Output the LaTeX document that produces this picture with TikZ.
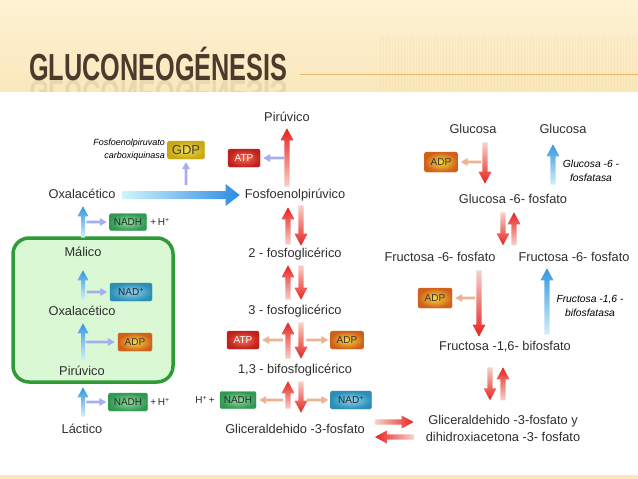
\documentclass[tikz,border=0pt]{standalone}
\usepackage{graphicx}
\usepackage{fontspec}
\setmainfont{Liberation Sans}
\usetikzlibrary{calc}

\definecolor{txt}{HTML}{2E2E2E}
\definecolor{ttl}{HTML}{4A3B2C}
\definecolor{bandtop}{HTML}{FDF2D4}
\definecolor{bandbot}{HTML}{FAE8BC}
\definecolor{rulecol}{HTML}{EBB66A}
\definecolor{redhi}{HTML}{E8221F}
\definecolor{redlo}{HTML}{F8D2C9}
\definecolor{bluehi}{HTML}{3597E0}
\definecolor{bluelo}{HTML}{D2F0FB}
\definecolor{bigl}{HTML}{CFF3FC}
\definecolor{bigr}{HTML}{2C8CE2}
\definecolor{lav}{HTML}{A6AEF2}
\definecolor{sidetan}{HTML}{EBB394}
\definecolor{mitofill}{HTML}{DAF8D4}
\definecolor{mitoline}{HTML}{2E9B37}
\definecolor{atpin}{HTML}{F26C55}
\definecolor{atpout}{HTML}{C0201A}
\definecolor{adpin}{HTML}{F9D83C}
\definecolor{adpout}{HTML}{D0601A}
\definecolor{gdpin}{HTML}{F2DC4E}
\definecolor{gdpout}{HTML}{C9A812}
\definecolor{nadhin}{HTML}{96DCA6}
\definecolor{nadhout}{HTML}{2F9A50}
\definecolor{nadin}{HTML}{8ED6EE}
\definecolor{nadout}{HTML}{2A8EB6}

\begin{document}
\begin{tikzpicture}[x=1pt,y=-1pt,font=\fontsize{12.8}{14}\selectfont]
\tikzset{garrow/.style args={#1/#2/#3}{to path={let \p1=(\tikztostart), \p2=(\tikztotarget),
  \n1={veclen(\x2-\x1,\y2-\y1)}, \n2={atan2(\y2-\y1,\x2-\x1)} in
  {[shift={(\x1,\y1)},rotate=\n2] (0pt,-#1) -- (\n1-#3,-#1) -- (\n1-#3,-#2) -- (\n1-0pt,0pt)
  -- (\n1-#3,#2) -- (\n1-#3,#1) -- (0pt,#1) -- cycle}}}}
\tikzstyle{lbl}=[inner sep=1pt, text height=9.5pt, text depth=2.7pt, text=txt]
\tikzstyle{enz}=[inner sep=1pt, align=center, font=\fontsize{10.3}{13.5}\selectfont\itshape, text=black]
\tikzstyle{box}=[rounded corners=1.5pt, inner sep=0pt, minimum height=18pt, font=\fontsize{10}{10}\selectfont]
\tikzstyle{atp}=[box, inner color=atpin, outer color=atpout, draw=atpout, text=white, minimum width=32pt]
\tikzstyle{adp}=[box, inner color=adpin, outer color=adpout, draw=adpout, text=black!80, minimum width=34pt]
\tikzstyle{gdp}=[box, inner color=gdpin, outer color=gdpout, draw=gdpout, text=black!75, minimum width=37pt, font=\fontsize{13}{13}\selectfont]
\tikzstyle{nadh}=[box, inner color=nadhin, outer color=nadhout, draw=nadhout, text=black!85, minimum width=37pt, minimum height=17pt]
\tikzstyle{nad}=[box, inner color=nadin, outer color=nadout, draw=nadout, text=black!85, minimum width=42pt]
\tikzstyle{mainarr}=[garrow=2.6pt/6.5pt/12pt]
\tikzstyle{leftarr}=[garrow=2pt/5.5pt/10pt]
\tikzstyle{sidearr}=[garrow=1.3pt/4pt/7pt]
\tikzstyle{bigarr}=[garrow=4pt/11pt/14pt]
\tikzstyle{redup}=[top color=redhi, bottom color=redlo]
\tikzstyle{reddown}=[top color=redlo, bottom color=redhi]
\tikzstyle{redright}=[left color=redlo, right color=redhi]
\tikzstyle{redleft}=[left color=redhi, right color=redlo]
\tikzstyle{blueup}=[top color=bluehi, bottom color=bluelo]

\useasboundingbox (0,0) rectangle (638,479);
\fill[white] (0,0) rectangle (638,479);
\shade[top color=bandtop, bottom color=bandbot] (0,0) rectangle (638,91);
\foreach \i in {380,383,...,636} \draw[rulecol, opacity=0.12, line width=0.8pt] (\i,35) -- (\i,91);
\fill[bandbot] (0,475) rectangle (638,479);
\draw[rulecol, line width=0.8pt] (300,74) -- (638,74);
\node[anchor=base west, inner sep=0, text=ttl, font=\fontsize{37.7}{40}\selectfont\bfseries] (titulo) at (29,80)
  {\scalebox{0.67}[1]{GLUCONEOGÉNESIS}};
\begin{scope}
\clip (0,80) rectangle (638,91);
\node[anchor=base west, inner sep=0, text=ttl, text opacity=0.1, font=\fontsize{37.7}{40}\selectfont\bfseries] (reflejo) at (29,80)
  {\scalebox{0.67}[-1]{GLUCONEOGÉNESIS}};
\end{scope}

% mitocondria
\node[draw=mitoline, fill=mitofill, line width=3.5pt, rounded corners=16pt, minimum width=160pt, minimum height=144pt] (mito) at (93,310) {};

% column 1
\node[lbl] (oxa1) at (82,195) {Oxalacético};
\node[lbl] (mal) at (83,253) {Málico};
\node[lbl] (oxa2) at (82,312) {Oxalacético};
\node[lbl] (piru2) at (82,372) {Pirúvico};
\node[lbl] (lac) at (82,430) {Láctico};
\node[nadh] (nadh1) at (128,222) {NADH};
\node[nad] (nad1) at (131,292) {NAD\textsuperscript{+}};
\node[adp] (adp1) at (135,342) {ADP};
\node[nadh, minimum width=39pt, minimum height=18pt] (nadh2) at (128,402) {NADH};
\node[font=\fontsize{10}{10}\selectfont, text=txt] (h1) at (160,222) {+\,H\textsuperscript{+}};
\node[font=\fontsize{10}{10}\selectfont, text=txt] (h2) at (160,402) {+\,H\textsuperscript{+}};
\node[gdp] (gdp) at (186,150) {GDP};
\node[enz, align=right, anchor=east, font=\fontsize{9}{13}\selectfont\itshape] (pepck) at (166,150) {Fosfoenolpiruvato\\carboxiquinasa};

% column 2
\node[lbl] (piru1) at (287,118) {Pirúvico};
\node[lbl] (fosfo) at (295,195) {Fosfoenolpirúvico};
\node[lbl] (dos) at (295,254) {2 - fosfoglicérico};
\node[lbl] (tres) at (295,311) {3 - fosfoglicérico};
\node[lbl] (bif) at (295,370) {1,3 - bifosfoglicérico};
\node[lbl] (gli) at (295,430) {Gliceraldehido -3-fosfato};
\node[atp] (atp1) at (244,158) {ATP};
\node[atp] (atp2) at (243,340) {ATP};
\node[adp, minimum width=33pt] (adp2) at (347,340) {ADP};
\node[nadh, minimum width=36pt] (nadh3) at (238,400) {NADH};
\node[nad, minimum width=41pt] (nad2) at (351,400) {NAD\textsuperscript{+}};
\node[font=\fontsize{10}{10}\selectfont, text=txt] (h3) at (205,400) {H\textsuperscript{+}\,+};

% column 3
\node[lbl] (glc1) at (473,130) {Glucosa};
\node[lbl] (glc2) at (563,130) {Glucosa};
\node[lbl] (g6p) at (513,200) {Glucosa -6- fosfato};
\node[lbl] (f6p1) at (440,258) {Fructosa -6- fosfato};
\node[lbl] (f6p2) at (574,258) {Fructosa -6- fosfato};
\node[lbl] (f16) at (505,347) {Fructosa -1,6- bifosfato};
\node[inner sep=1pt, align=center, text=txt, font=\fontsize{12.8}{17}\selectfont] (gdhap) at (503,428.5)
  {Gliceraldehido -3-fosfato y\\dihidroxiacetona -3- fosfato};
\node[adp, minimum width=33pt, minimum height=20pt] (adp3) at (441,162) {ADP};
\node[adp, minimum height=20pt] (adp4) at (435,298) {ADP};
\node[enz] (g6pasa) at (591,171) {Glucosa -6 -\\fosfatasa};
\node[enz] (fbpasa) at (590,306) {Fructosa -1,6 -\\bifosfatasa};

% arrows, column 1
\shade[left color=bigl, right color=bigr] ($(oxa1.east)+(6,0)$) to[bigarr] ($(fosfo.west)+(-4,0)$);
\fill[lav] ($(gdp.south)+(0,26)$) to[sidearr] ($(gdp.south)+(0,3)$);
\shade[blueup] ($(mal.north)+(0,-8)$) to[leftarr] ($(oxa1.south)+(1,4)$);
\shade[blueup] ($(oxa2.north)+(1,-5)$) to[leftarr] ($(mal.south)+(0,10)$);
\shade[blueup] ($(piru2.north)+(1,-5)$) to[leftarr] ($(oxa2.south)+(1,4)$);
\shade[blueup] ($(lac.north)+(1,-6)$) to[leftarr] ($(piru2.south)+(1,8)$);
\fill[lav] ($(nadh1.west)+(-23,0)$) to[sidearr] ($(nadh1.west)+(-2.5,0)$);
\fill[lav] ($(nad1.west)+(-23,0)$) to[sidearr] ($(nad1.west)+(-2.5,0)$);
\fill[lav] ($(adp1.west)+(-32,0)$) to[sidearr] ($(adp1.west)+(-3,0)$);
\fill[lav] ($(nadh2.west)+(-22,0)$) to[sidearr] ($(nadh2.west)+(-2,0)$);

% arrows, column 2
\shade[redup] ($(fosfo.north)+(-8,-1)$) to[mainarr] ($(piru1.south)+(0,3)$);
\fill[lav] ($(atp1.east)+(24,0)$) to[sidearr] ($(atp1.east)+(3,0)$);
\shade[redup] ($(dos.north)+(-7,-2)$) to[mainarr] ($(fosfo.south)+(-7,5)$);
\shade[reddown] ($(fosfo.south)+(6,3)$) to[mainarr] ($(dos.north)+(6,-1)$);
\shade[redup] ($(tres.north)+(-7,-4)$) to[mainarr] ($(dos.south)+(-7,4)$);
\shade[reddown] ($(dos.south)+(6,4)$) to[mainarr] ($(tres.north)+(6,-4)$);
\shade[redup] ($(bif.north)+(-7,-4)$) to[mainarr] ($(tres.south)+(-7,4)$);
\shade[reddown] ($(tres.south)+(6,4)$) to[mainarr] ($(bif.north)+(6,-4)$);
\shade[redup] ($(gli.north)+(-7,-14)$) to[mainarr] ($(bif.south)+(-7,4)$);
\shade[reddown] ($(bif.south)+(6,4)$) to[mainarr] ($(gli.north)+(6,-10)$);
\fill[sidetan] ($(atp2.east)+(24,0)$) to[sidearr] ($(atp2.east)+(3,0)$);
\fill[sidetan] ($(adp2.west)+(-24,0)$) to[sidearr] ($(adp2.west)+(-2,0)$);
\fill[sidetan] ($(nadh3.east)+(27,0)$) to[sidearr] ($(nadh3.east)+(3,0)$);
\fill[sidetan] ($(nad2.west)+(-23.5,0)$) to[sidearr] ($(nad2.west)+(-2,0)$);
\shade[redright] ($(gli.east)+(9,-8)$) to[mainarr] ($(gdhap.west)+(-11,-6.5)$);
\shade[redleft] ($(gdhap.west)+(-11,8.5)$) to[mainarr] ($(gli.east)+(9,7)$);

% arrows, column 3
\shade[reddown] ($(glc1.south)+(12,5)$) to[mainarr] ($(g6p.north)+(-28,-9)$);
\fill[sidetan] ($(adp3.east)+(23.5,0)$) to[sidearr] ($(adp3.east)+(3,0)$);
\shade[blueup] ($(g6p.north)+(40,-8)$) to[mainarr] ($(glc2.south)+(-10,7)$);
\shade[reddown] ($(g6p.south)+(-10,5)$) to[mainarr] ($(g6p.south)+(-10,38)$);
\shade[redup] ($(g6p.south)+(1,38)$) to[mainarr] ($(g6p.south)+(1,5)$);
\shade[reddown] ($(f6p1.south)+(39,5)$) to[mainarr] ($(f16.north)+(-26,-3)$);
\fill[sidetan] ($(adp4.east)+(23,0)$) to[sidearr] ($(adp4.east)+(3,0)$);
\shade[blueup] ($(f16.north)+(42,-5)$) to[mainarr] ($(f6p2.south)+(-27,3)$);
\shade[reddown] ($(f16.south)+(-15,13)$) to[mainarr] ($(f16.south)+(-15,46)$);
\shade[redup] ($(f16.south)+(-2,46)$) to[mainarr] ($(f16.south)+(-2,13)$);
\end{tikzpicture}
\end{document}
